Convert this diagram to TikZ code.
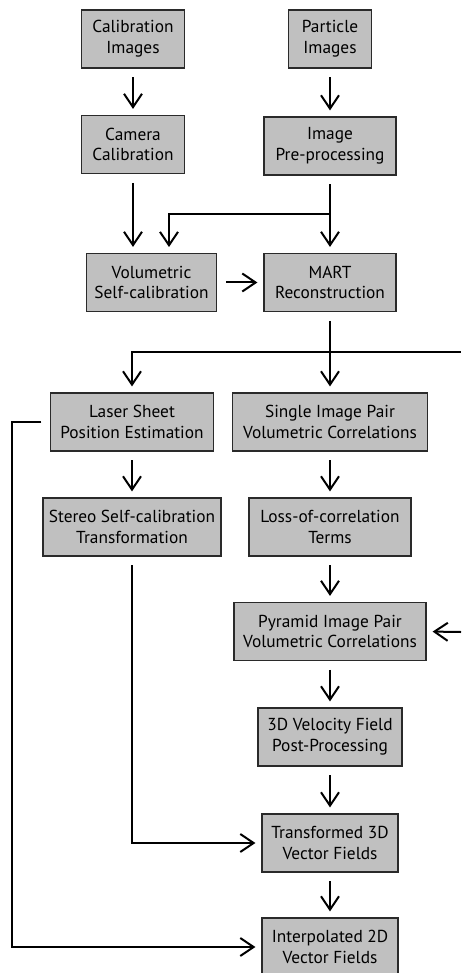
\documentclass[tikz,border=0pt]{standalone}
\usepackage{fontspec}
\setmainfont{PT Sans}
\usepackage{tikz}
\usetikzlibrary{arrows.meta,positioning}
\definecolor{Relleno}{HTML}{C0C0C0}
\definecolor{Borde}{HTML}{2A2A2A}

\begin{document}
\begin{tikzpicture}[
  x=0.75pt,y=-0.75pt,
  every node/.style={font=\fontsize{13}{15.6}\selectfont},
  box/.style={draw=Borde,fill=Relleno,line width=0.9pt,align=center,
    inner sep=0pt,minimum height=43.5pt},
  flow/.style={line width=1.5pt,-{Straight Barb[length=10pt,width=13.5pt,line width=1.5pt]},
    shorten <=6.5pt,shorten >=4.5pt},
  wire/.style={line width=1.5pt}
]
  \useasboundingbox (0,0) rectangle (461,973);

  % Etapa de calibracion y reconstruccion
  \node[box,minimum width=77pt] (calimg) at (133,39) {Calibration\\Images};
  \node[box,minimum width=62pt] (partimg) at (330,39) {Particle\\Images};
  \node[box,minimum width=77pt] (camcal) at (133,144.5) {Camera\\Calibration};
  \node[box,minimum width=99pt] (preproc) at (330,146) {Image\\Pre-processing};
  \node[box,minimum width=98pt] (volcal) at (151.5,282.5) {Volumetric\\Self-calibration};
  \node[box,minimum width=99pt] (mart) at (330,282.5) {MART\\Reconstruction};

  % Etapa de correlacion
  \node[box,minimum width=122pt] (laser) at (132,422) {Laser Sheet\\Position Estimation};
  \node[box,minimum width=146pt] (single) at (330,422) {Single Image Pair\\Volumetric Correlations};
  \node[box,minimum width=133.5pt] (stereo) at (132,527) {Stereo Self-calibration\\Transformation};
  \node[box,minimum width=121.5pt] (loss) at (330,527) {Loss-of-correlation\\Terms};
  \node[box,minimum width=144pt] (pyramid) at (330,631.5) {Pyramid Image Pair\\Volumetric Correlations};
  \node[box,minimum width=108pt] (velo) at (330,737) {3D Velocity Field\\Post-Processing};
  \node[box,minimum width=102pt] (trans) at (330,843) {Transformed 3D\\Vector Fields};
  \node[box,minimum width=102pt] (interp) at (330,947) {Interpolated 2D\\Vector Fields};

  \coordinate (split1) at (330,214);
  \coordinate (volin) at (169,253);
  \coordinate (split2) at (330,352);
  \coordinate (rightout) at (461,352);
  \coordinate (rightin) at (461,632);
  \coordinate (leftrail) at (12,422);

  \draw[flow] (calimg) -- (camcal);
  \draw[flow] (partimg) -- (preproc);
  \draw[flow] (camcal.south) -- (camcal.south |- volcal.north);
  \draw[flow] (preproc) -- (mart);
  \draw[flow,shorten <=0pt] (split1) -| (volin);
  \draw[flow] (volcal) -- (mart);

  \draw[flow] (mart) -- (single);
  \draw[flow,shorten <=0pt] (split2) -| (laser.north);
  \draw[wire] (split2) -- (rightout);
  \draw[flow,shorten <=0pt] (rightin) -- (pyramid.east);

  \draw[flow] (laser) -- (stereo);
  \draw[flow] (single) -- (loss);
  \draw[flow] (loss) -- (pyramid);
  \draw[flow] (pyramid) -- (velo);
  \draw[flow] (velo) -- (trans);
  \draw[flow] (trans) -- (interp);

  % Ramas laterales hacia los campos finales
  \draw[flow] (stereo.south) |- (trans.west);
  \draw[flow] (laser.west) -- (leftrail) |- (interp.west);
\end{tikzpicture}
\end{document}
